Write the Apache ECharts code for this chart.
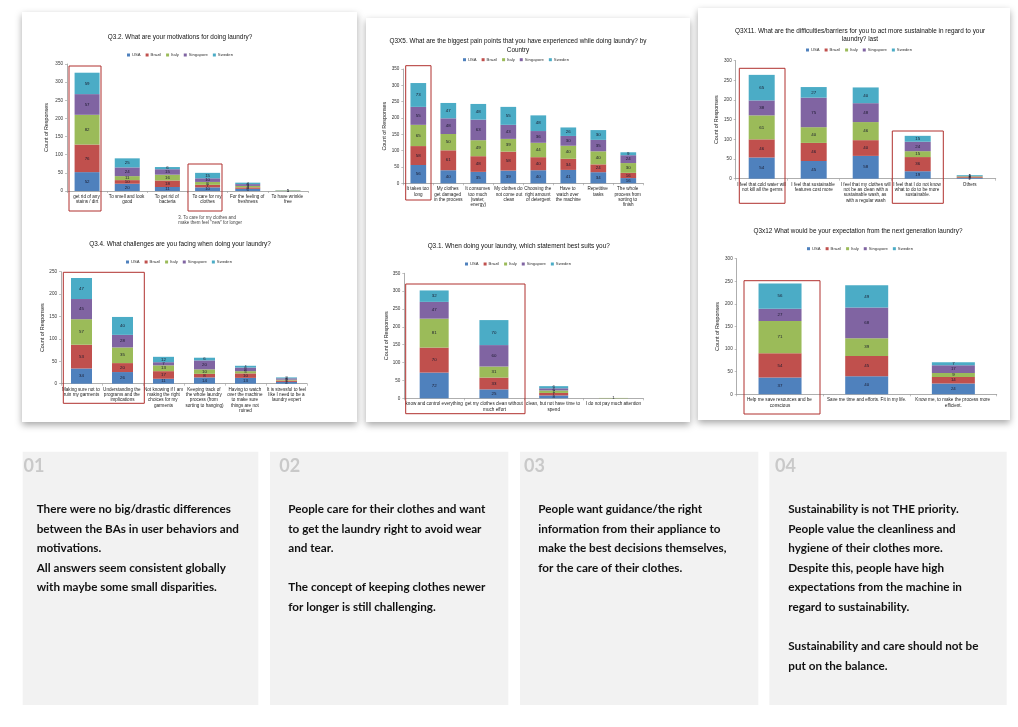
<!DOCTYPE html>
<html><head><meta charset="utf-8">
<script src="https://cdn.jsdelivr.net/npm/echarts@6/dist/echarts.min.js"></script>
<style>html,body{margin:0;padding:0;background:#fff;}#c{width:1018px;height:727px;}</style>
</head><body><div id="c"></div>
<script>
const countries = ['USA','Brazil','Italy','Singapore','Sweden'];
const colors = ['#4F81BD','#C0504D','#9BBB59','#8064A2','#4BACC6'];

// Q3.2
const q32Title = 'Q3.2. What are your motivations for doing laundry?';
const q32Cats = ['get rid of any stains / dirt','To smell and look good','To get rid of bacteria','To care for my clothes','For the feeling of freshness','To have wrinkle free'];
const q32Values = [ // USA, Brazil, Italy, Singapore, Sweden
  [52,20,11,10,6,1],
  [76,10,18,7,4,0],
  [82,11,16,8,4,1],
  [57,24,15,10,5,0],
  [59,25,6,15,4,0]
];
// Q3.4
const q34Title = 'Q3.4. What challenges are you facing when doing your laundry?';
const q34Cats = ['Making sure not to ruin my garments','Understanding the programs and the implications','Not knowing if I am making the right choices for my garments','Keeping track of the whole laundry process (from sorting to hanging)','Having to watch over the machine to make sure things are not ruined','It is stressful to feel like I need to be a laundry expert'];
const q34Values = [
  [34,26,11,14,13,4],
  [53,20,17,8,10,3],
  [57,35,13,10,5,2],
  [45,28,7,20,8,3],
  [47,40,12,6,4,2]
];
// Q3X5
const q35Title = 'Q3X5. What are the biggest pain points that you have experienced while doing laundry? by\nCountry';
const q35Cats = ['It takes too long','My clothes get damaged in the process','It consumes too much (water, energy)','My clothes do not come out clean','Choosing the right amount of detergent','Have to watch over the machine','Repetitive tasks','The whole process from sorting to finish'];
const q35Values = [
  [56,40,35,39,40,41,34,16],
  [58,61,48,58,40,34,24,16],
  [65,50,49,39,44,40,40,30],
  [55,48,63,43,36,30,35,24],
  [73,47,48,55,48,26,30,9]
];
// Q3.1
const q31Title = 'Q3.1. When doing your laundry, which statement best suits you?';
const q31Cats = ['know and control everything','get my clothes clean without much effort','clean, but not have time to spend','I do not pay much attention'];
const q31Values = [
  [72,25,8,0],
  [70,33,7,0],
  [81,31,7,1],
  [47,60,6,0],
  [32,70,6,0]
];
// Q3X11
const q311Title = 'Q3X11. What are the difficulties/barriers for you to act more sustainable in regard to your\nlaundry? last';
const q311Cats = ['I feel that cold water will not kill all the germs','I feel that sustainable features cost more','I feel that my clothes will not be as clean with a sustainable wash, as with a regular wash','I feel that I do not know what to do to be more sustainable.','Others'];
const q311Values = [
  [54,45,58,19,2],
  [46,46,40,36,2],
  [61,40,46,15,2],
  [38,75,48,24,1],
  [65,27,40,15,2]
];
// Q3x12
const q312Title = 'Q3x12 What would be your expectation from the next generation laundry?';
const q312Cats = ['Help me save resources and be conscious','Save me time and efforts. Fit in my life.','Know me, to make the process more efficient.'];
const q312Values = [
  [37,40,24],
  [54,45,14],
  [71,39,9],
  [27,68,17],
  [56,49,7]
];

const yMaxes = [350,250,350,350,300,300];
const yTicks = [50,50,50,50,50,50];

const box1 = ['There were no big/drastic differences','between the BAs in user behaviors and','motivations.','All answers seem consistent globally','with maybe some small disparities.'];
const box2 = ['People care for their clothes and want','to get the laundry right to avoid wear','and tear.','','The concept of keeping clothes newer','for longer is still challenging.'];
const box3 = ['People want guidance/the right','information from their appliance to','make the best decisions themselves,','for the care of their clothes.'];
const box4 = ['Sustainability is not THE priority.','People value the cleanliness and','hygiene of their clothes more.','Despite this, people have high','expectations from the machine in','regard to sustainability.','','Sustainability and care should not be','put on the balance.'];
const boxNums = ['01','02','03','04'];

const charts = [
  {title:q32Title, cats:q32Cats, vals:q32Values, grid:{left:67,top:64,width:241,height:127}, bw:25, lw:38, tx:180, ty:32.5, lx:127, ly:53, ng:18},
  {title:q34Title, cats:q34Cats, vals:q34Values, grid:{left:61,top:271.7,width:246,height:112}, bw:21, lw:40, tx:180, ty:239.5, lx:126, ly:260, ng:15},
  {title:q35Title, cats:q35Cats, vals:q35Values, grid:{left:403.3,top:69,width:240,height:114.3}, bw:15.7, lw:29, tx:518, ty:37, lx:463, ly:57.7, ng:16},
  {title:q31Title, cats:q31Cats, vals:q31Values, grid:{left:404.3,top:273.3,width:239,height:125}, bw:29, lw:58, tx:518.7, ty:242.3, lx:465, ly:262, ng:15},
  {title:q311Title, cats:q311Cats, vals:q311Values, grid:{left:735.7,top:60.7,width:260,height:118}, bw:26, lw:50, tx:860, ty:26.5, lx:806, ly:48, ng:16.7},
  {title:q312Title, cats:q312Cats, vals:q312Values, grid:{left:736.7,top:258.7,width:260,height:135.6}, bw:43, lw:82, tx:858, ty:226.5, lx:807, ly:246.7, ng:16.7}
];

const FONT = 'Liberation Sans';
const option = {animation:false, backgroundColor:'#fff', color:colors,
  title:[], legend:[], grid:[], xAxis:[], yAxis:[], series:[], graphic:[]};

charts.forEach((c,i)=>{
  option.title.push({text:c.title, left:c.tx, top:c.ty, textAlign:'center', padding:0,
    textStyle:{fontSize:6.4, fontWeight:'normal', color:'#111', fontFamily:FONT, lineHeight:8.5}});
  option.legend.push({data:countries, left:c.lx, top:c.ly, padding:0, icon:'rect', itemWidth:3, itemHeight:3, itemGap:5,
    textStyle:{fontSize:4.2, color:'#333', fontFamily:FONT, padding:[0,0,0,-3]}});
  option.grid.push(Object.assign({containLabel:false}, c.grid));
  option.xAxis.push({type:'category', gridIndex:i, data:c.cats,
    axisLine:{lineStyle:{color:'#999', width:0.8}},
    axisTick:{show:true, length:2, lineStyle:{color:'#999', width:0.6}},
    axisLabel:{interval:0, fontSize:4.6, color:'#222', fontFamily:FONT, width:c.lw, overflow:'break', lineHeight:5.4, margin:3}});
  option.yAxis.push({type:'value', gridIndex:i, min:0, max:yMaxes[i], interval:yTicks[i],
    splitLine:{show:false},
    axisLine:{show:true, lineStyle:{color:'#999', width:0.8}},
    axisTick:{show:true, length:2, lineStyle:{color:'#999', width:0.6}},
    axisLabel:{fontSize:4.6, color:'#333', fontFamily:FONT, margin:4},
    name:'Count of Responses', nameLocation:'middle', nameGap:c.ng, nameRotate:90,
    nameTextStyle:{fontSize:5.4, color:'#222', fontFamily:FONT}});
  countries.forEach((country,k)=>{
    option.series.push({type:'bar', name:country, xAxisIndex:i, yAxisIndex:i, stack:'s'+i, barWidth:c.bw,
      data:c.vals[k], itemStyle:{color:colors[k]},
      label:{show:true, position:'inside', fontSize:4.4, color:'#1a1a2e', fontFamily:FONT,
        formatter:p=>p.value>0?String(p.value):''}});
  });
});

// paper cards
const cards = [[22,12,335,410],[366,18,324,404],[698,8,312,412]];
cards.forEach(r=>option.graphic.push({type:'rect', z:-10, shape:{x:r[0],y:r[1],width:r[2],height:r[3]},
  style:{fill:'#fff', shadowBlur:7, shadowColor:'rgba(0,0,0,0.35)', shadowOffsetY:3}}));
// highlight boxes
const hl = [[69,66,32,145],[188,164,34,47],[63.3,272.3,81,131],[405.7,65.7,25.3,134.3],[405.7,284,119.3,129.7],[739.3,68.3,45.7,135],[892.3,131,51,72.3],[744,280.7,76,133.3]];
hl.forEach(r=>option.graphic.push({type:'rect', z:100, shape:{x:r[0],y:r[1],width:r[2],height:r[3]},
  style:{fill:'none', stroke:'#B0302E', lineWidth:1}}));
option.graphic.push({type:'text', z:100, x:178.3, y:215, style:{text:'3. To care for my clothes and\nmake them feel "new" for longer', fontSize:4.5, lineHeight:5.2, fill:'#444', fontFamily:FONT}});

// text boxes
const boxes = [[22.7,451.7,235.6,253.3,box1,23.5,36.7],[270,451.7,238.3,253.3,box2,279.3,288.3],[520,451.7,238.3,253.3,box3,524,538.3],[769.3,451.7,237.4,253.3,box4,775,788.3]];
boxes.forEach((b,i)=>{
  option.graphic.push({type:'rect', z:-10, shape:{x:b[0],y:b[1],width:b[2],height:b[3]}, style:{fill:'#F2F2F2'}});
  option.graphic.push({type:'text', z:100, x:b[5], y:457, style:{text:boxNums[i], fontSize:18, fontWeight:'bold', fill:'#C9C9C9', fontFamily:'Lato'}});
  option.graphic.push({type:'text', z:100, x:b[6], y:499.5, style:{text:b[4].join('\n'), fontSize:11.7, fontWeight:'bold', lineHeight:19.6, fill:'#111', fontFamily:'Lato'}});
});

const chart = echarts.init(document.getElementById('c'), null, {renderer:'canvas'});
chart.setOption(option);
</script></body></html>
